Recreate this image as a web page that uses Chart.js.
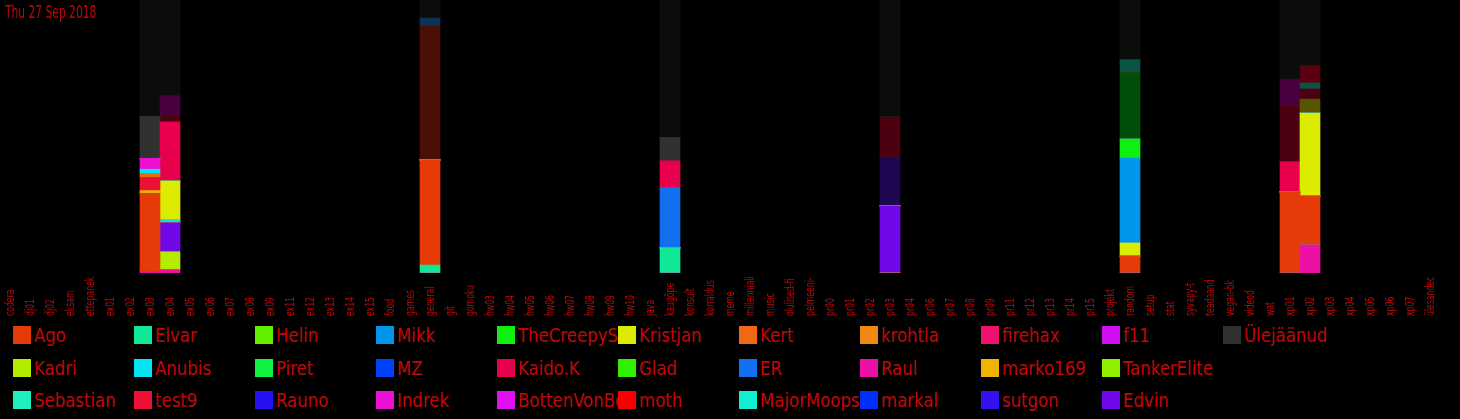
<!DOCTYPE html>
<html>
<head>
<meta charset="utf-8">
<script src="https://cdn.jsdelivr.net/npm/chart.js@4"></script>
<style>
  body { margin: 0; background: #000; overflow: hidden; }
  #wrap { position: absolute; left: 0; top: 0; width: 1440px; height: 320px; }
  #legend {
    position: absolute; left: 13px; top: 326px;
    display: grid; grid-auto-flow: column;
    grid-template-rows: repeat(3, 32.5px); grid-auto-columns: 121px;
    font-family: "DejaVu Sans Condensed", "DejaVu Sans", sans-serif;
    font-size: 20px; color: #c40606;
  }
  .item { display: flex; align-items: flex-start; overflow-x: clip; overflow-y: visible; white-space: nowrap; height: 30px; width: 121px; }
  .box { flex: none; width: 18px; height: 18px; margin-right: 3px; }
  .name { line-height: 19px; transform: scaleX(0.92); transform-origin: left center; }
</style>
</head>
<body>
<div id="wrap"><canvas id="myChart"></canvas></div>
<div id="legend"></div>
<script>
var title = 'Thu 27 Sep 2018';

var categories = ['codera','dj01','dj02','eksam','ettepanek','ex01','ex02','ex03','ex04','ex05','ex06','ex07','ex08','ex09','ex11','ex12','ex13','ex14','ex15','food','games','general','git','gomoku','hw03','hw04','hw05','hw06','hw07','hw08','hw09','hw10','java','kaugõpe','konsult','korraldus','meme','millenniali','music','olulised-fi','pelmeeni-','pr00','pr01','pr02','pr03','pr04','pr06','pr07','pr08','pr09','pr11','pr12','pr13','pr14','pr15','projekt','random','setup','stat','syvapy-t','teadaand','vegan-bk','videod','wat','xp01','xp02','xp03','xp04','xp05','xp06','xp07','ülesandec'];

// legend, in the order it is shown (column by column)
var users = ['Ago','Kadri','Sebastian','Elvar','Anubis','test9','Helin','Piret','Rauno','Mikk','MZ','Indrek','TheCreepySh','Kaido.K','BottenVonBot','Kristjan','Glad','moth','Kert','ER','MajorMoopsy','krohtla','Raul','markal','firehax','marko169','sutgon','f11','TankerElite','Edvin','Ülejäänud'];
var userColors = ['#e63a08','#b4ec00','#20f0c0','#10e898','#00e4f4','#ec1034','#60f000','#10f040','#2410f0','#0096ec','#0040f8','#ec10d4','#10f010','#e8004c','#e010f0','#dcec00','#30f000','#f80000','#f06814','#1070f0','#10f0d0','#f08814','#ec10a4','#0030f8','#f01070','#f0b400','#3410f0','#d010f0','#90f000','#7008e8','#303230'];

// share of each channel's messages (%), only channels that had any
var activeChannels = ['ex03','ex04','general','kaugõpe','pr03','random','xp01','xp02'];
var raul       = [0.6, 1.2,  0,    0,    0,    0,    0,    10.3];
var elvar      = [0,   0,    2.9,  9.2,  0,    0,    0,    0];
var ago        = [28.6,0,    38.5, 0,    0,    6.2,  29.7, 17.9];
var kadri      = [0,   6.6,  0,    0,    0,    0,    0,    0];
var edvin      = [0,   10.6, 0,    0,    24.5, 0,    0,    0];
var marko169   = [1.0, 0,    0,    0,    0,    0,    0,    0];
var test9      = [4.8, 0,    0,    0,    0,    0,    0,    0];
var kert       = [1.5, 0,    0,    0,    0,    0,    0,    0];
var anubis     = [1.5, 1.0,  0,    0,    0,    0,    0,    0];
var indrek     = [4.0, 0,    0,    0,    0,    0,    0,    0];
var kristjan   = [0,   14.3, 0,    0,    0,    4.8,  0,    30.4];
var mikk       = [0,   0,    0,    0,    0,    31.1, 0,    0];
var creepy     = [0,   0,    0,    0,    0,    7.0,  0,    0];
var er         = [0,   0,    0,    22.0, 0,    0,    0,    0];
var kaidoK     = [0,   21.6, 0,    9.9,  0,    0,    11.0, 0];
var ylejaanud  = [15.4,0,    0,    8.4,  0,    0,    0,    0];
// people outside the legend
var darkNavy   = [0,   0,    0,    0,    17.9, 0,    0,    0];
var darkGreen  = [0,   0,    0,    0,    0,    24.2, 0,    0];
var olive      = [0,   0,    0,    0,    0,    0,    0,    5.1];
var darkRed    = [0,   2.5,  0,    0,    14.7, 0,    20.5, 3.7];
var darkTeal   = [0,   0,    0,    0,    0,    4.8,  0,    2.2];
var darkRed2   = [0,   0,    0,    0,    0,    0,    0,    6.2];
var darkPurple = [0,   7.0,  0,    0,    0,    0,    9.5,  0];
var darkBrown  = [0,   0,    49.1, 0,    0,    0,    0,    0];
var darkBlue   = [0,   0,    2.9,  0,    0,    0,    0,    0];
var rest       = [42.6,35.2, 6.6,  50.5, 42.9, 21.9, 29.3, 24.2];

var colorOf = function(name){ return userColors[users.indexOf(name)]; };

// bottom to top
var stack = [
  ['Raul', raul, colorOf('Raul')],
  ['Elvar', elvar, colorOf('Elvar')],
  ['Ago', ago, colorOf('Ago')],
  ['Kadri', kadri, colorOf('Kadri')],
  ['Edvin', edvin, colorOf('Edvin')],
  ['marko169', marko169, colorOf('marko169')],
  ['test9', test9, colorOf('test9')],
  ['Kert', kert, colorOf('Kert')],
  ['Anubis', anubis, colorOf('Anubis')],
  ['Indrek', indrek, colorOf('Indrek')],
  ['Kristjan', kristjan, colorOf('Kristjan')],
  ['Mikk', mikk, colorOf('Mikk')],
  ['TheCreepySh', creepy, colorOf('TheCreepySh')],
  ['ER', er, colorOf('ER')],
  ['Kaido.K', kaidoK, colorOf('Kaido.K')],
  ['Ülejäänud', ylejaanud, colorOf('Ülejäänud')],
  ['', darkNavy, '#1e0650'],
  ['', darkGreen, '#004e08'],
  ['', olive, '#585400'],
  ['', darkRed, '#4c0010'],
  ['', darkTeal, '#0a5444'],
  ['', darkRed2, '#5a0010'],
  ['', darkPurple, '#4a0040'],
  ['', darkBrown, '#4a1008'],
  ['', darkBlue, '#0a3456'],
  ['', rest, '#0a0d0a']
];

var datasets = stack.map(function(s){
  return {
    label: s[0],
    data: activeChannels.map(function(ch, i){ return {x: ch, y: s[1][i]}; }),
    backgroundColor: s[2],
    borderWidth: 0,
    barPercentage: 1,
    categoryPercentage: 1
  };
});

var textPlugin = {
  id: 'texts',
  afterDraw: function(chart){
    var ctx = chart.ctx;
    var xs = chart.scales.x;
    ctx.save();
    ctx.fillStyle = '#c40606';
    ctx.font = '13px "DejaVu Sans Condensed", "DejaVu Sans", sans-serif';
    ctx.textAlign = 'left';
    ctx.textBaseline = 'middle';
    categories.forEach(function(c, i){
      ctx.save();
      ctx.translate(xs.getPixelForValue(i) + 1, 316);
      ctx.rotate(-Math.PI / 2);
      ctx.scale(0.66, 1);
      ctx.fillText(c, 0, 0);
      ctx.restore();
    });
    ctx.save();
    ctx.translate(5, 18);
    ctx.scale(0.7, 1);
    ctx.font = '17px "DejaVu Sans Condensed", "DejaVu Sans", sans-serif';
    ctx.textBaseline = 'alphabetic';
    ctx.fillText(title, 0, 0);
    ctx.restore();
    ctx.restore();
  }
};

var myChart = new Chart(document.getElementById('myChart').getContext('2d'), {
  type: 'bar',
  data: { labels: categories, datasets: datasets },
  options: {
    responsive: true,
    maintainAspectRatio: false,
    animation: false,
    layout: { padding: { bottom: 47 } },
    plugins: { legend: { display: false }, tooltip: { enabled: false } },
    scales: {
      x: { display: false, stacked: true, offset: true },
      y: { display: false, stacked: true, min: 0, max: 100 }
    }
  },
  plugins: [textPlugin]
});

var legend = document.getElementById('legend');
users.forEach(function(u, i){
  var item = document.createElement('div');
  item.className = 'item';
  var box = document.createElement('span');
  box.className = 'box';
  box.style.background = userColors[i];
  var name = document.createElement('span');
  name.className = 'name';
  name.textContent = u;
  item.appendChild(box);
  item.appendChild(name);
  legend.appendChild(item);
});
</script>
</body>
</html>
